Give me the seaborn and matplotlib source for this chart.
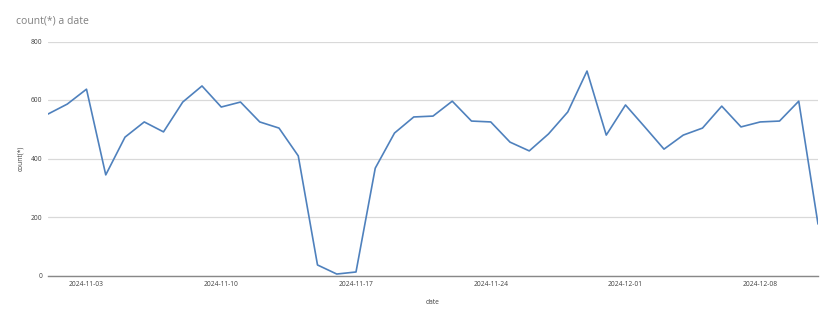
import matplotlib
matplotlib.use("Agg")
import matplotlib.pyplot as plt
import matplotlib.dates as mdates
import seaborn as sns
import pandas as pd
import numpy as np

dates = pd.date_range("2024-11-01", "2024-12-11", freq="D")
counts = [552, 586, 637, 344, 473, 525, 491, 593, 648, 576,
          593, 525, 504, 409, 36, 5, 12, 367, 487, 542,
          545, 596, 528, 525, 456, 426, 484, 559, 699, 480,
          583, 508, 432, 480, 504, 579, 508, 525, 528, 596, 176]
yticks = [0, 200, 400, 600, 800]

df = pd.DataFrame({"date": dates, "count(*)": counts})

sns.set_theme(style="white")
plt.rcParams['font.family'] = ['Open Sans', 'DejaVu Sans']

fig = plt.figure(figsize=(8.34, 3.2), dpi=100)
ax = fig.add_axes([48/834, 44.5/320, 770/834, 234/320])
sns.lineplot(data=df, x="date", y="count(*)", ax=ax, color="#4f81bd", linewidth=1.2)

ax.set_xlim(dates[0], dates[-1])
ax.set_ylim(0, 800)
ax.set_yticks(yticks)
ax.yaxis.grid(True, color="#d9d9d9", linewidth=0.9)
ax.xaxis.grid(False)
ax.xaxis.set_major_locator(mdates.WeekdayLocator(byweekday=mdates.SU))
ax.xaxis.set_major_formatter(mdates.DateFormatter("%Y-%m-%d"))
for s in ["top", "right", "left"]:
    ax.spines[s].set_visible(False)
ax.spines["bottom"].set_color("#888888")
ax.spines["bottom"].set_linewidth(1.0)
ax.tick_params(axis="both", length=0, labelsize=4.8, colors="#404040", pad=4)
ax.set_xlabel("date", fontsize=4.8, color="#404040", labelpad=8)
ax.set_ylabel("count(*)", fontsize=4.8, color="#404040", labelpad=5)
fig.text(16/834, 1 - 21/320, "count(*) a date", fontsize=7.5, color="#808080", va="center", ha="left")

fig.savefig("out.png", dpi=100, facecolor="white")
